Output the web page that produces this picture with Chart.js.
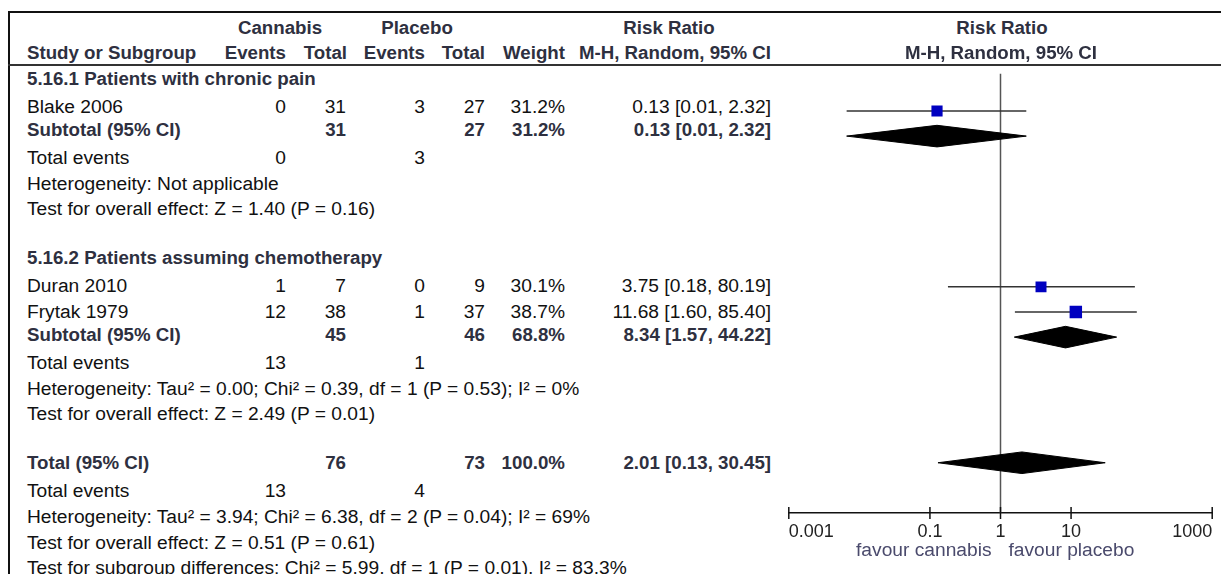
<!DOCTYPE html>
<html>
<head>
<meta charset="utf-8">
<script src="https://cdn.jsdelivr.net/npm/chart.js@4.4.1/dist/chart.umd.min.js"></script>
<style>
body { margin: 0; background: #fff; }
#page { position: relative; width: 1221px; height: 574px; overflow: hidden; font-family: "Liberation Sans", Arial, sans-serif; }
.t { position: absolute; white-space: nowrap; line-height: 26px; font-size: 19.2px; color: #111; }
.b { font-weight: bold; font-size: 18.7px; color: #2e3040; }
.fav { color: #4a4a6c; }
.tick { font-size: 18px; color: #222; }
.hl { position: absolute; background: #111; }
#plot { position: absolute; left: 780px; top: 65px; width: 441px; height: 509px; }
</style>
</head>
<body>
<div id="page">
  <div class="hl" style="left:8px;top:11px;width:1213px;height:2px"></div>
  <div class="hl" style="left:8px;top:11px;width:2px;height:563px"></div>
  <div class="hl" style="left:8px;top:64px;width:1213px;height:2px;background:#333"></div>
  <div id="plot"><canvas id="forest"></canvas></div>
</div>
<script>
// studies
var studies = ['Blake 2006', 'Duran 2010', 'Frytak 1979'];
var studyGroup = [0, 1, 1];
var canEvents = [0, 1, 12];
var canTotal = [31, 7, 38];
var plaEvents = [3, 0, 1];
var plaTotal = [27, 9, 37];
var weights = [31.2, 30.1, 38.7];
var rr = [0.126, 3.75, 11.68];
var rrLow = [0.0066, 0.18, 1.60];
var rrHigh = [2.32, 80.19, 85.40];

// subgroups
var groups = ['5.16.1 Patients with chronic pain', '5.16.2 Patients assuming chemotherapy'];
var subCanTotal = [31, 45];
var subPlaTotal = [27, 46];
var subCanEvents = [0, 13];
var subPlaEvents = [3, 1];
var subWeight = [31.2, 68.8];
var subRR = [0.126, 8.34];
var subLow = [0.0066, 1.57];
var subHigh = [2.32, 44.22];
var subHetero = ['Heterogeneity: Not applicable',
  'Heterogeneity: Tau\u00b2 = 0.00; Chi\u00b2 = 0.39, df = 1 (P = 0.53); I\u00b2 = 0%'];
var subEffect = ['Test for overall effect: Z = 1.40 (P = 0.16)',
  'Test for overall effect: Z = 2.49 (P = 0.01)'];

// overall
var totCan = 76, totPla = 73, totWeight = 100.0;
var totCanEvents = 13, totPlaEvents = 4;
var totRR = 2.01, totLow = 0.13, totHigh = 30.45;
var totLines = ['Heterogeneity: Tau\u00b2 = 3.94; Chi\u00b2 = 6.38, df = 2 (P = 0.04); I\u00b2 = 69%',
  'Test for overall effect: Z = 0.51 (P = 0.61)',
  'Test for subgroup differences: Chi\u00b2 = 5.99, df = 1 (P = 0.01), I\u00b2 = 83.3%'];

var tickVals = [0.001, 0.1, 1, 10, 1000];
var tickText = ['0.001', '0.1', '1', '10', '1000'];
var favourLeft = 'favour cannabis', favourRight = 'favour placebo';

// layout
var col = {name: 27, cEv: 286, cTot: 346, pEv: 425, pTot: 485, wt: 565, ci: 771};
var yMin = -0.48, yMax = 17, halfDiamond = 0.43;
var page = document.getElementById('page');

function rowY(r, adj) { return 80.9 + 25.64 * r + (adj || 0); }
function addText(txt, x, capY, align, cls) {
  var d = document.createElement('div');
  d.className = 't' + (cls ? ' ' + cls : '');
  d.textContent = txt;
  d.style.left = x + 'px';
  d.style.top = (capY - 12.8) + 'px';
  if (align == 'right') d.style.transform = 'translateX(-100%)';
  if (align == 'center') d.style.transform = 'translateX(-50%)';
  page.appendChild(d);
}
function ci(est, lo, hi) { return est.toFixed(2) + ' [' + lo.toFixed(2) + ', ' + hi.toFixed(2) + ']'; }

// header
addText('Cannabis', 280, 27.3, 'center', 'b');
addText('Placebo', 417, 27.3, 'center', 'b');
addText('Risk Ratio', 669, 27.3, 'center', 'b');
addText('Risk Ratio', 1002, 27.3, 'center', 'b');
addText('Study or Subgroup', col.name, 52.8, 'left', 'b');
addText('Events', col.cEv, 52.8, 'right', 'b');
addText('Total', col.cTot + 1, 52.8, 'right', 'b');
addText('Events', col.pEv, 52.8, 'right', 'b');
addText('Total', col.pTot, 52.8, 'right', 'b');
addText('Weight', col.wt, 52.8, 'right', 'b');
addText('M-H, Random, 95% CI', col.ci, 52.8, 'right', 'b');
addText('M-H, Random, 95% CI', 1001, 52.8, 'center', 'b');

var squares = [], ciLines = [], diamonds = [];
function diamond(est, lo, hi, r) {
  return [{x: lo, y: r}, {x: est, y: r - halfDiamond}, {x: hi, y: r}, {x: est, y: r + halfDiamond}, {x: lo, y: r}];
}

var r = 0;
for (var g = 0; g < groups.length; g++) {
  addText(groups[g], col.name, rowY(r, -2.5), 'left', 'b');
  r++;
  for (var i = 0; i < studies.length; i++) {
    if (studyGroup[i] != g) continue;
    var y = rowY(r);
    addText(studies[i], col.name, y, 'left');
    addText(String(canEvents[i]), col.cEv, y, 'right');
    addText(String(canTotal[i]), col.cTot, y, 'right');
    addText(String(plaEvents[i]), col.pEv, y, 'right');
    addText(String(plaTotal[i]), col.pTot, y, 'right');
    addText(weights[i].toFixed(1) + '%', col.wt, y, 'right');
    addText(ci(rr[i], rrLow[i], rrHigh[i]), col.ci, y, 'right');
    squares.push({x: rr[i], y: r, w: weights[i]});
    ciLines.push([{x: rrLow[i], y: r}, {x: rrHigh[i], y: r}]);
    r++;
  }
  var ys = rowY(r, -2.5);
  addText('Subtotal (95% CI)', col.name, ys, 'left', 'b');
  addText(String(subCanTotal[g]), col.cTot, ys, 'right', 'b');
  addText(String(subPlaTotal[g]), col.pTot, ys, 'right', 'b');
  addText(subWeight[g].toFixed(1) + '%', col.wt, ys, 'right', 'b');
  addText(ci(subRR[g], subLow[g], subHigh[g]), col.ci, ys, 'right', 'b');
  diamonds.push(diamond(subRR[g], subLow[g], subHigh[g], r));
  r++;
  addText('Total events', col.name, rowY(r), 'left');
  addText(String(subCanEvents[g]), col.cEv, rowY(r), 'right');
  addText(String(subPlaEvents[g]), col.pEv, rowY(r), 'right');
  r++;
  addText(subHetero[g], col.name, rowY(r), 'left'); r++;
  addText(subEffect[g], col.name, rowY(r), 'left'); r++;
  r++;
}
var yt = rowY(r, -2.5);
addText('Total (95% CI)', col.name, yt, 'left', 'b');
addText(String(totCan), col.cTot, yt, 'right', 'b');
addText(String(totPla), col.pTot, yt, 'right', 'b');
addText(totWeight.toFixed(1) + '%', col.wt, yt, 'right', 'b');
addText(ci(totRR, totLow, totHigh), col.ci, yt, 'right', 'b');
diamonds.push(diamond(totRR, totLow, totHigh, r));
r++;
addText('Total events', col.name, rowY(r), 'left');
addText(String(totCanEvents), col.cEv, rowY(r), 'right');
addText(String(totPlaEvents), col.pEv, rowY(r), 'right');
r++;
for (var k = 0; k < totLines.length; k++) { addText(totLines[k], col.name, rowY(r), 'left'); r++; }

// datasets
var sets = [];
sets.push({data: [{x: 1, y: yMin}, {x: 1, y: yMax}], showLine: true, borderColor: '#555', borderWidth: 1.5,
  pointRadius: 0, order: 5, clip: false});
ciLines.forEach(function (l) {
  sets.push({data: l, showLine: true, borderColor: '#333', borderWidth: 1.5, pointRadius: 0, order: 4});
});
diamonds.forEach(function (d) {
  sets.push({data: d, showLine: true, fill: 'shape', backgroundColor: '#000', borderColor: '#000',
    borderWidth: 1, pointRadius: 0, tension: 0, order: 3});
});
sets.push({data: squares, pointStyle: 'rect', backgroundColor: '#0000c0', borderColor: '#0000c0', borderWidth: 0,
  pointRadius: squares.map(function (s) { return Math.sqrt(s.w) * 1.414; }), order: 1});

var tickMarks = {
  id: 'tickMarks',
  afterDraw: function (chart) {
    var xs = chart.scales.x, ctx = chart.ctx, yb = chart.chartArea.bottom;
    ctx.save();
    ctx.strokeStyle = '#111';
    ctx.lineWidth = 1.5;
    xs.ticks.forEach(function (t) {
      var px = xs.getPixelForValue(t.value);
      ctx.beginPath();
      ctx.moveTo(px, yb - 6);
      ctx.lineTo(px, yb + 6);
      ctx.stroke();
    });
    ctx.restore();
  }
};

var myChart = new Chart(document.getElementById('forest'), {
  type: 'scatter',
  data: {datasets: sets},
  options: {
    responsive: true,
    maintainAspectRatio: false,
    animation: false,
    events: [],
    layout: {padding: {left: 8, right: 6, top: 0, bottom: 0}},
    plugins: {legend: {display: false}, tooltip: {enabled: false}},
    scales: {
      x: {
        type: 'logarithmic', min: 0.001, max: 1000,
        afterBuildTicks: function (s) { s.ticks = tickVals.map(function (v) { return {value: v}; }); },
        afterFit: function (s) { s.height = 61; },
        ticks: {display: false},
        grid: {display: false},
        border: {display: true, color: '#111', width: 1.5}
      },
      y: {type: 'linear', min: yMin, max: yMax, reverse: true, display: false}
    }
  },
  plugins: [tickMarks]
});

// tick labels and favour captions placed from the x scale
var xs = myChart.scales.x;
tickVals.forEach(function (v, i) {
  var px = 780 + xs.getPixelForValue(v);
  var al = i == 0 ? 'left' : (i == tickVals.length - 1 ? 'right' : 'center');
  addText(tickText[i], px, 530.3, al, 'tick');
});
var one = 780 + xs.getPixelForValue(1);
addText(favourLeft, one - 9, 549.5, 'right', 'fav');
addText(favourRight, one + 8, 549.5, 'left', 'fav');
</script>
</body>
</html>
